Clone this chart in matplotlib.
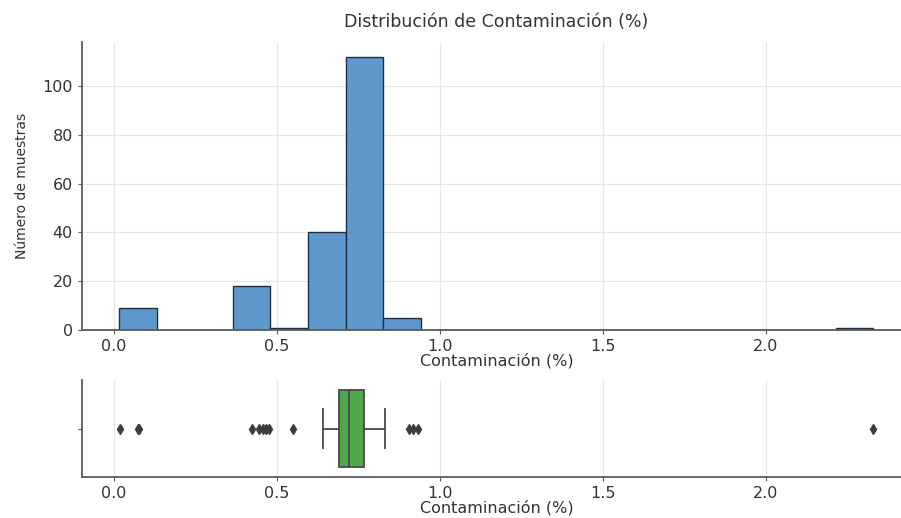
import matplotlib as mpl

mpl.use("Agg")

import matplotlib.pyplot as plt
import numpy as np

# histogram: 20 equal bins between min and max of the sample
data_min = 0.018
data_max = 2.33
n_bins = 20
counts = [9, 0, 0, 18, 1, 40, 112, 5, 0, 0, 0, 0, 0, 0, 0, 0, 0, 0, 0, 1]

# boxplot summary
q1 = 0.690
median = 0.721
q3 = 0.767
whisker_low = 0.641
whisker_high = 0.831
outliers = [0.021, 0.074, 0.078, 0.426, 0.445, 0.458, 0.466, 0.476, 0.549, 0.905, 0.918, 0.934, 2.33]

title = "Distribución de Contaminación (%)"
xlabel = "Contaminación (%)"
ylabel = "Número de muestras"

spine_c = "#5a5a5a"
text_c = "#333333"


def style_axes(ax):
    for side in ("top", "right"):
        ax.spines[side].set_visible(False)
    for side in ("left", "bottom"):
        ax.spines[side].set_color(spine_c)
        ax.spines[side].set_linewidth(1.3)
    ax.tick_params(colors=spine_c, labelcolor=text_c, labelsize=11.5, length=3)
    ax.set_axisbelow(True)


fig = plt.figure(figsize=(9.01, 5.18), dpi=100)
ax_h = fig.add_axes([82 / 901, 0.363, 829 / 901, 0.556])
ax_b = fig.add_axes([82 / 901, 0.079, 829 / 901, 0.187])

edges = np.linspace(data_min, data_max, n_bins + 1)
ax_h.bar(edges[:-1], counts, width=np.diff(edges), align="edge",
         color="#5e98cc", edgecolor="#1f2f44", linewidth=1.0)
ax_h.set_xlim(-0.097, 2.446)
ax_h.set_ylim(0, 118)
ax_h.set_yticks([0, 20, 40, 60, 80, 100])
ax_h.set_xticks([0.0, 0.5, 1.0, 1.5, 2.0])
ax_h.grid(True, color="#e6e6e6", lw=0.8)
style_axes(ax_h)
ax_h.set_title(title, fontsize=12.5, color=text_c, pad=11)
ax_h.set_xlabel(xlabel, fontsize=11.5, color=text_c, labelpad=-1)
ax_h.set_ylabel(ylabel, fontsize=10, color=text_c, labelpad=10)

stats = [dict(med=median, q1=q1, q3=q3, whislo=whisker_low, whishi=whisker_high,
              fliers=outliers)]
ax_b.bxp(stats, positions=[0], widths=0.8, vert=False, patch_artist=True,
         boxprops=dict(facecolor="#4fa84a", edgecolor="#4a4a4a", lw=1.3),
         medianprops=dict(color="#4a4a4a", lw=1.3),
         whiskerprops=dict(color="#4a4a4a", lw=1.3),
         capprops=dict(color="#4a4a4a", lw=1.3),
         flierprops=dict(marker="d", markersize=5.5, markerfacecolor="#3d3d3d",
                         markeredgecolor="#3d3d3d"))
ax_b.set_xlim(-0.097, 2.446)
ax_b.set_ylim(0.5, -0.5)
ax_b.set_yticks([0])
ax_b.set_yticklabels([""])
ax_b.set_xticks([0.0, 0.5, 1.0, 1.5, 2.0])
ax_b.grid(True, axis="x", color="#e6e6e6", lw=0.8)
style_axes(ax_b)
ax_b.set_xlabel(xlabel, fontsize=11.5, color=text_c, labelpad=-1)

fig.savefig("out.png", dpi=100)
